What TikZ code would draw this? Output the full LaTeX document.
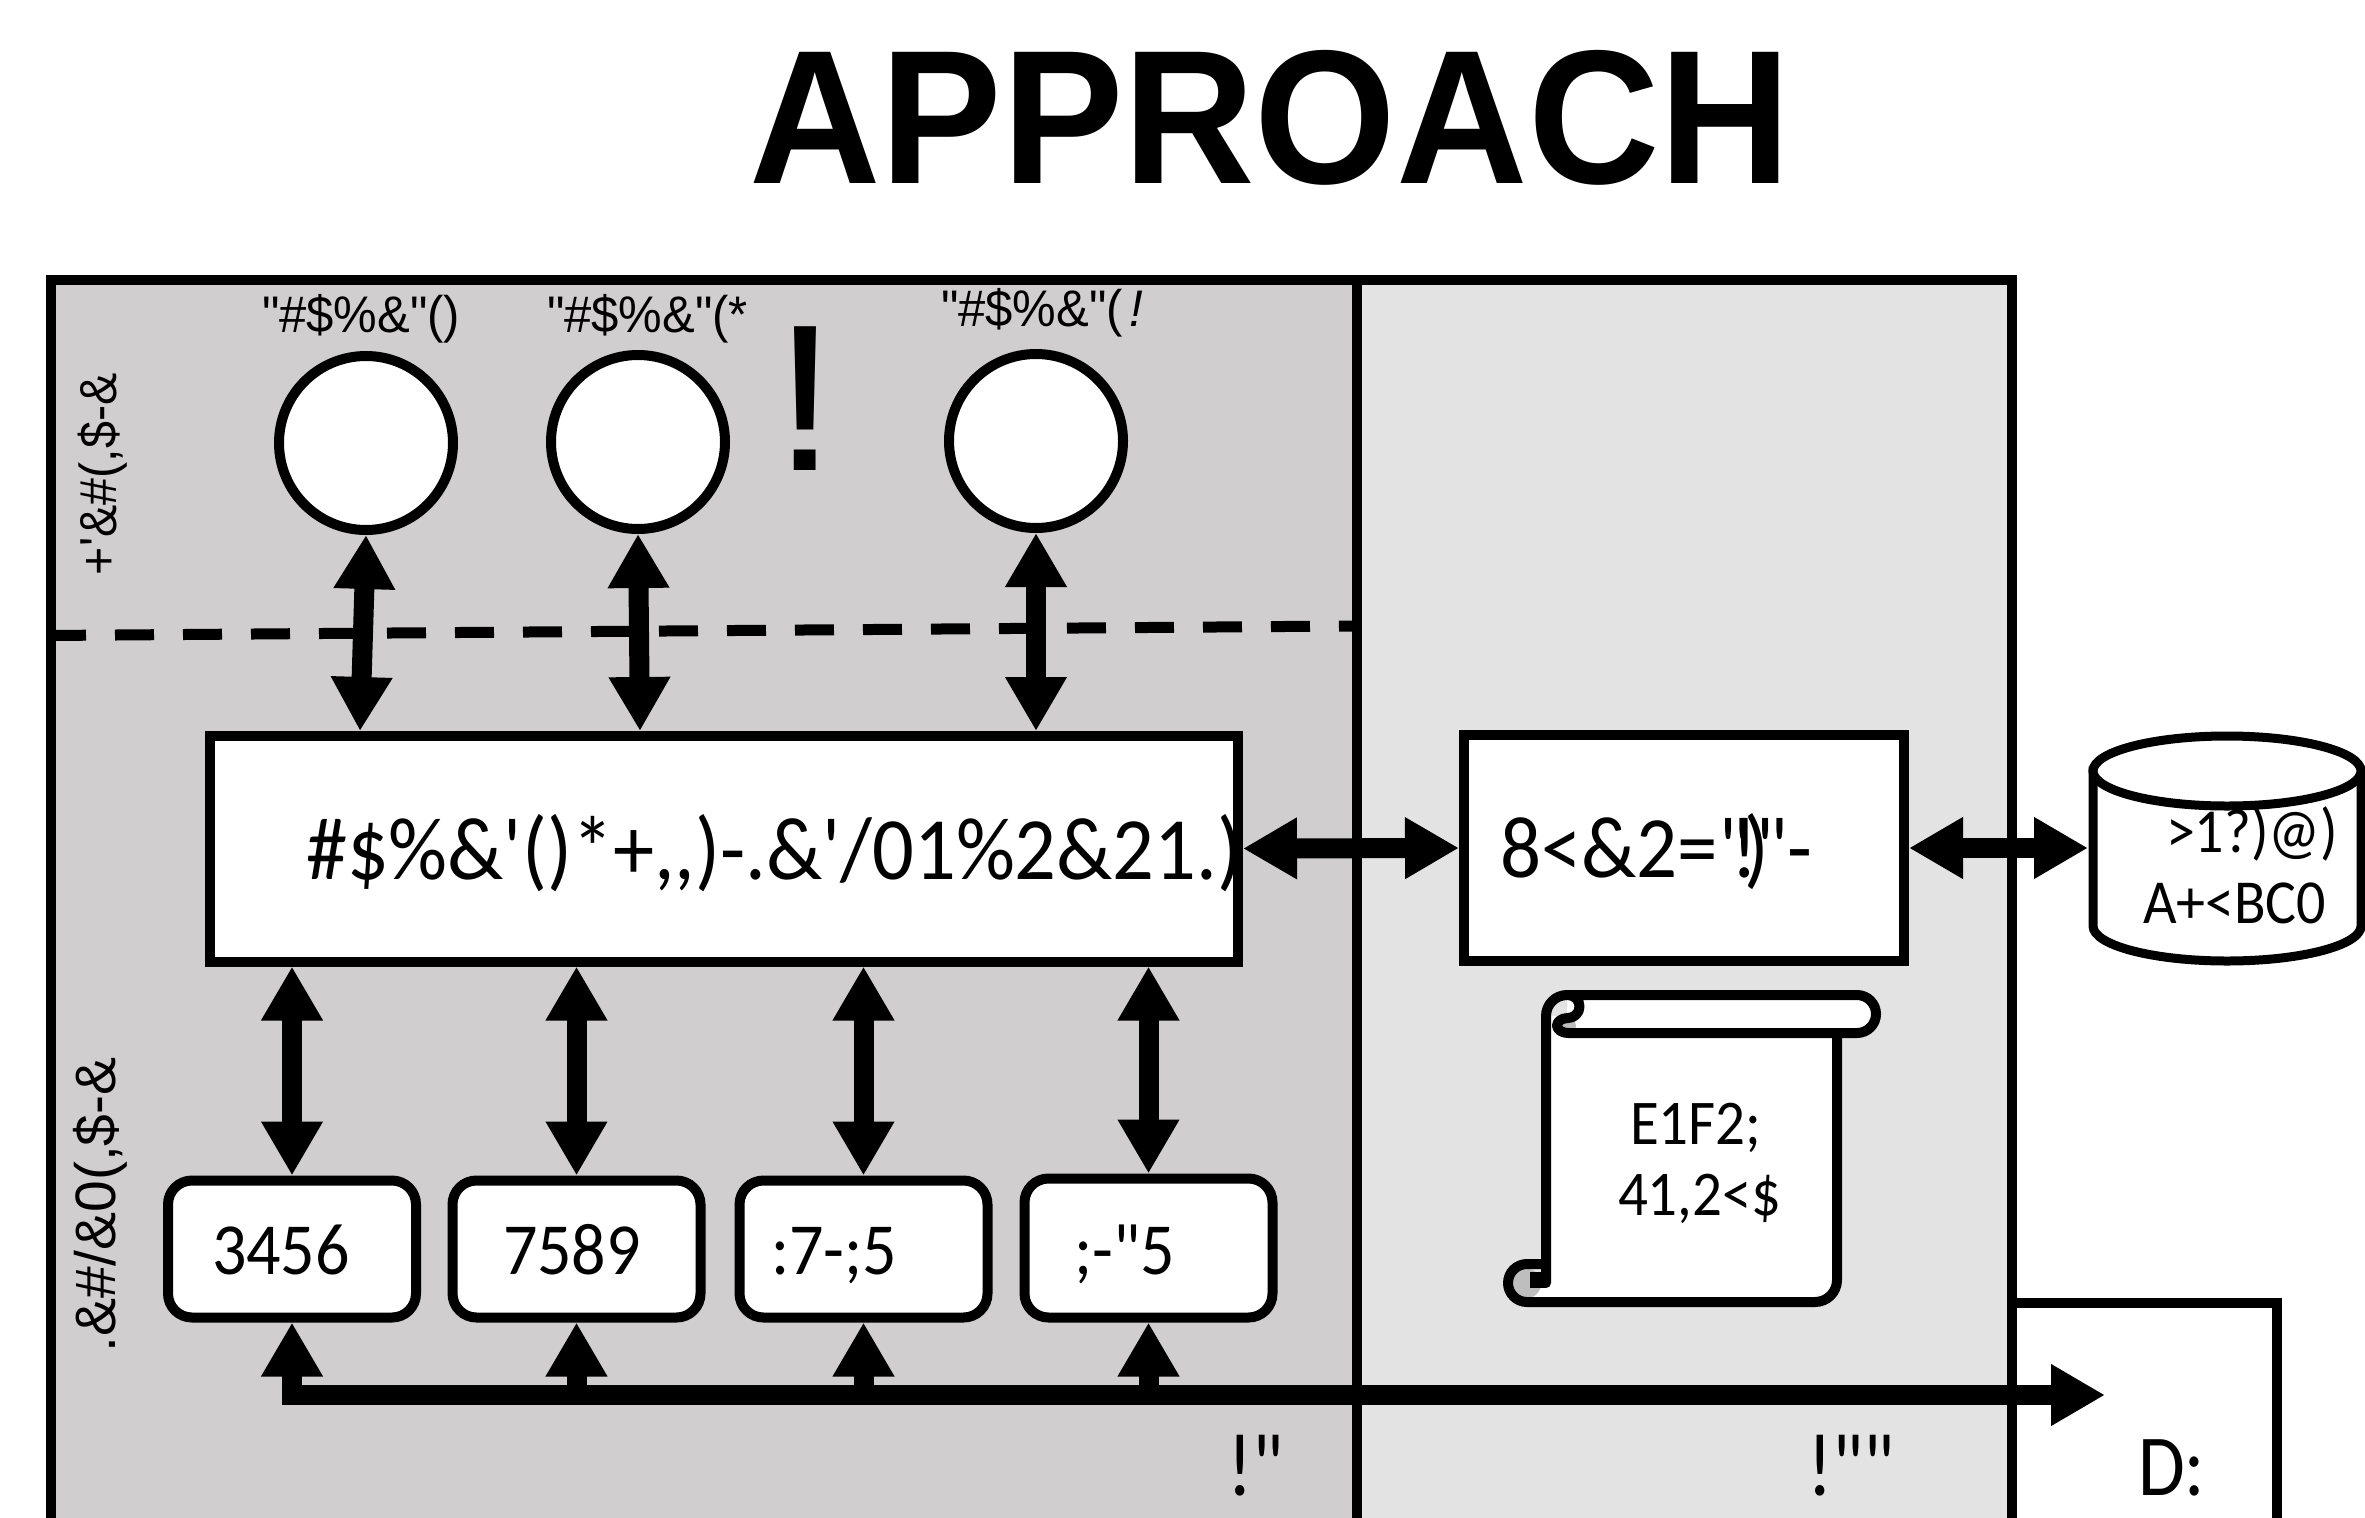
\documentclass[tikz,border=0pt]{standalone}
\usepackage{fontspec}
\usetikzlibrary{arrows.meta}
\newfontfamily\carlf{Carlito}
\newfontfamily\libf{Liberation Sans}
\definecolor{panelL}{HTML}{D0CECE}
\definecolor{panelR}{HTML}{E3E3E3}
\definecolor{curlgrey}{HTML}{BEBEBE}
\tikzset{
  car/.style={font=\carlf\fontsize{#1}{#1}\selectfont,anchor=base west,inner sep=0pt,outer sep=0pt,text=black,yscale=1.08},
  lib/.style={font=\libf\fontsize{#1}{#1}\selectfont,anchor=base west,inner sep=0pt,outer sep=0pt,text=black},
  whitebox/.style={draw=black,fill=white,line width=10pt,minimum width=#1,inner sep=0pt},
  bubble/.style={circle,draw=black,fill=white,line width=10pt,minimum size=174pt,inner sep=0pt},
  slot/.style={draw=black,fill=white,line width=10pt,rounded corners=24pt,minimum width=248pt,minimum height=137pt,inner sep=0pt},
  twoway/.style={line width=20pt,{Triangle[length=54pt,width=58pt]}-{Triangle[length=54pt,width=58pt]}},
  oneway/.style={line width=20pt,-{Triangle[length=54pt,width=58pt]}},
  scrollline/.style={draw=black,line width=10pt,line join=round,line cap=round},
}
\begin{document}
\begin{tikzpicture}[x=1pt,y=-1pt]
\useasboundingbox (0,0) rectangle (2365,1517);
\clip (0,0) rectangle (2365,1517);
% panels
\fill[panelL] (50,280) rectangle (1357,1560);
\fill[panelR] (1357,280) rectangle (2012,1560);
% D: box
\draw[line width=10pt,fill=white] (2012,1560) -- (2012,1303) -- (2277,1303) -- (2277,1560);
% frame
\draw[line width=10pt] (50.5,1560) -- (50.5,280) -- (2012,280) -- (2012,1560);
\draw[line width=10.5pt] (1357,280) -- (1357,1560);
% dashed
\coordinate (dashA) at (47,635.5);
\coordinate (dashB) at (1353,626);
\draw[line width=11pt,dash pattern=on 39pt off 29pt,dash phase=0pt] (dashA) -- (dashB);
% title
\node[lib=187,font=\libf\bfseries\fontsize{187}{187}\selectfont,xscale=.974,yscale=1.02] (title) at (749,184) {APPROACH};
% circles and labels
\node[bubble] (c1) at (366,443) {};
\node[bubble] (c2) at (638,442) {};
\node[bubble] (c3) at (1036,441) {};
\node[lib=49,yscale=1.05] (lc1) at (262,332) {"\#\$\%\&"()};
\node[lib=49,yscale=1.05] (lc2) at (547,332) {"\#\$\%\&"(*};
\node[lib=49,yscale=1.05] (lc3) at (941,326) {"\#\$\%\&"(\kern.14em{\itshape !}};
\node[lib=209,xscale=1.1] (bang) at (773,470) {!};
% side labels
\node[lib=52,rotate=90,xscale=.93] (side1) at (116,575) {+'\&\#(,\$-\&};
\node[lib=57,rotate=90] (side2) at (115,1352) {.\&\#/\&0(,\$-\&};
% main boxes
\node[whitebox=1028pt,minimum height=226pt] (main) at (724,848.5) {};
\node[whitebox=440pt,minimum height=226pt] (svc) at (1684,848) {};
\node[car=82.4] (tmain) at (306,879) {\#\$\%\&'()*+{,}{,})-.\&'/01\%2\&21.)};
\node[car=81] (tsvc) at (1500,877) {8<\&2="\kern-.235em!\kern-.17em)\kern-.17em"-};
% slots
\node[slot] (s1) at (292,1249) {};
\node[slot] (s2) at (576.5,1249) {};
\node[slot] (s3) at (863.5,1249) {};
\node[slot,minimum height=139pt] (s4) at (1148.5,1248) {};
\node[car=68] (t1) at (212,1274) {3456};
\node[car=68] (t2) at (503,1274) {7589};
\node[car=68] (t3) at (771,1274) {:7-;5};
\node[car=68] (t4) at (1074,1274) {;-"5};
% cylinder body
\filldraw[draw=black,fill=white,line width=9pt] (2093,771) -- (2093,926) arc[start angle=180,end angle=360,x radius=134,y radius=-35] -- (2361,771) -- cycle;
\node[car=58] (db1) at (2166,852) {>1?)@)};
\node[car=58] (db2) at (2143,923) {A+<BC0};
\filldraw[draw=black,fill=white,line width=9pt] (2227,771) ellipse[x radius=134,y radius=35];
\coordinate (dbw) at (2088,848);
% scroll
\fill[white] (1546,1016) -- (1837,1016) -- (1837,1280) arc[start angle=0,end angle=90,radius=22] -- (1527,1302) -- (1546,1283) -- cycle;
\fill[white] (1567,995) -- (1857,995) arc[start angle=270,end angle=450,radius=19] -- (1567,1033) -- cycle;
\fill[curlgrey] (1569,1026) circle[radius=7];
\fill[curlgrey] (1526,1283.5) circle[radius=15];
\draw[scrollline] (1546,1283) -- (1546,1016) arc[start angle=180,end angle=270,radius=21] -- (1857,995) arc[start angle=270,end angle=450,radius=19] -- (1568,1033) arc[start angle=90,end angle=270,x radius=11,y radius=7.5] arc[start angle=90,end angle=-90,radius=11.5];
\draw[scrollline] (1837,1033) -- (1837,1280) arc[start angle=0,end angle=90,radius=22] -- (1527,1302) arc[start angle=90,end angle=270,radius=19] -- (1546,1264);
\fill[black] (1530,1272) rectangle (1546,1288);
\node[car=59] (sc1) at (1630,1144) {E1F2;};
\node[car=59] (sc2) at (1618,1215) {41,2<\$};
% bottom labels
\node[car=78,yscale=1.06] (pl) at (1227,1495) {!"};
\node[car=78,yscale=1.06] (pr) at (1807,1495) {!""};
\node[car=76,yscale=1.06] (dl) at (2138,1495) {D:};
% connectors
\coordinate (m1) at (360,731);
\coordinate (m2) at (640,731);
\coordinate (m3) at (1036,731);
\draw[twoway] (c1.south) -- (m1);
\draw[twoway] (c2.south) -- (m2);
\draw[twoway] (c3.south) -- (m3);
\draw[twoway] (main.south -| s1.north) -- (s1.north);
\draw[twoway] (main.south -| s2.north) -- (s2.north);
\draw[twoway] (main.south -| s3.north) -- (s3.north);
\draw[twoway] (main.south -| s4.north) -- (s4.north);
\draw[twoway] (main.east) -- (svc.west);
\draw[twoway] (svc.east) -- (dbw);
\coordinate (bus) at (282,1395);
\coordinate (busEnd) at (2105,1395);
\draw[oneway] (bus -| s1.south) -- (s1.south);
\draw[oneway] (bus -| s2.south) -- (s2.south);
\draw[oneway] (bus -| s3.south) -- (s3.south);
\draw[oneway] (bus -| s4.south) -- (s4.south);
\draw[oneway] (bus) -- (busEnd);
\end{tikzpicture}
\end{document}
